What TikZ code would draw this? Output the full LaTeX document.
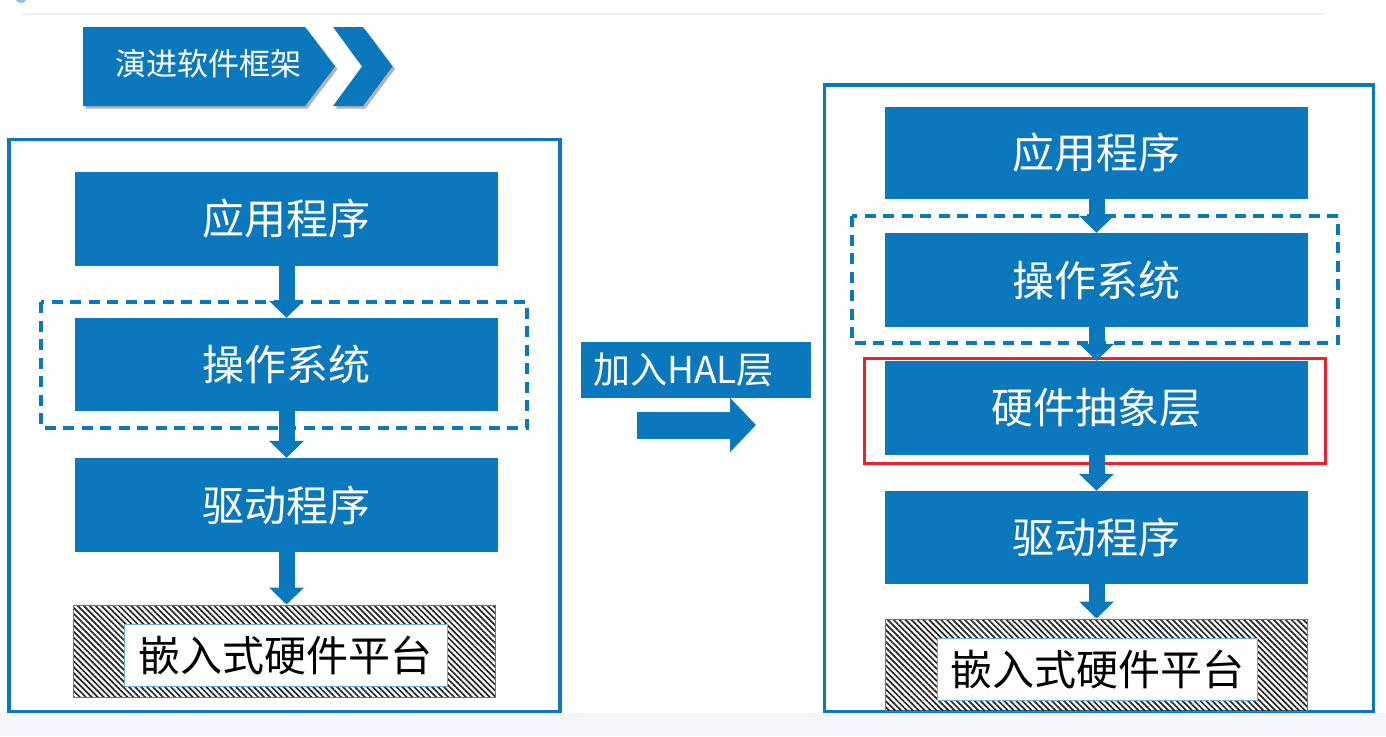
\documentclass[tikz,border=0pt]{standalone}
\usepackage{fontspec}
\newfontfamily\cjk{Noto Sans CJK SC}
\usetikzlibrary{arrows.meta,patterns.meta,shadows}
\definecolor{hblue}{HTML}{0B77BD}
\definecolor{hred}{HTML}{E8242C}
\definecolor{strip}{HTML}{F5F5FA}
\tikzset{
  layerbox/.style={fill=hblue, draw=none, minimum width=423pt, minimum height=94pt,
    text=white, inner sep=0pt, font=\cjk\fontsize{42}{42}\selectfont},
  hatchbox/.style={pattern={Lines[angle=-45,distance=4.2pt,line width=1.7pt]},
    pattern color=black!85, draw=hblue!40!gray, line width=1pt,
    minimum width=422pt, minimum height=92pt, inner sep=0pt},
  hwlabel/.style={fill=white, draw=hblue!60, line width=1pt, minimum width=323pt,
    minimum height=62pt, inner sep=0pt, text=black, font=\cjk\fontsize{42}{42}\selectfont},
  flow/.style={draw=hblue, line width=16pt, -{Triangle[width=34pt,length=17pt]}},
  dashbox/.style={draw=hblue, line width=3.5pt, dash pattern=on 11pt off 7.5pt},
  panel/.style={draw=hblue, line width=3.5pt},
}
\begin{document}
\begin{tikzpicture}[x=1pt,y=-1pt]
\useasboundingbox (0,0) rectangle (1386,736);
% faint top line and corner mark
\begin{scope}
\clip (0,0) rectangle (1386,736);
\fill[hblue!45] (21,-3) circle (6);
\end{scope}
\draw[black!6, line width=1.5pt] (22,14) -- (1325,14);
% header chevrons
\fill[hblue, drop shadow={shadow xshift=2.5pt, shadow yshift=-2.5pt, opacity=0.3, fill=black}]
  (83,27) -- (305,27) -- (335,66.5) -- (305,106) -- (83,106) -- cycle;
\fill[hblue, drop shadow={shadow xshift=2.5pt, shadow yshift=-2.5pt, opacity=0.3, fill=black}]
  (333,27) -- (363,27) -- (392.5,66.5) -- (363,106) -- (333,106) -- (362,66.5) -- cycle;
\node[text=white, font=\cjk\fontsize{31}{31}\selectfont] (title) at (208,64) {演进软件框架};

% left panel
\draw[panel] (9,139.5) rectangle (560,712);
\draw[dashbox] (41,302) rectangle (527,428);
\node[layerbox] (lapp) at (286.5,219) {应用程序};
\node[layerbox, minimum height=93pt] (los) at (286.5,364.5) {操作系统};
\node[layerbox] (ldrv) at (286.5,505) {驱动程序};
\node[hatchbox] (lhw) at (284,651) {};
\node[hwlabel] (lhwt) at (285.5,655) {嵌入式硬件平台};
\draw[flow] (lapp.south) -- (los.north);
\draw[flow] (los.south) -- (ldrv.north);
\draw[flow] (ldrv.south) -- (ldrv.south |- lhw.north);

% middle label and arrow
\node[fill=hblue, minimum width=230pt, minimum height=56pt, inner sep=0pt] (hal) at (696,370) {};
\node[anchor=west, text=white, font=\cjk\fontsize{37}{37}\selectfont, inner sep=0pt] (haltxt) at (593,370) {加入HAL层};
\coordinate (mfrom) at (637,425);
\coordinate (mto) at (756,425);
\draw[draw=hblue, line width=27pt, -{Triangle[width=53pt,length=26pt]}] (mfrom) -- (mto);

% right panel
\draw[panel] (824.5,85) rectangle (1373.5,712);
\draw[dashbox] (852,216) rectangle (1338,343);
\draw[hred, line width=3pt] (864,358) rectangle (1325,463);
\node[layerbox, minimum height=92pt] (rapp) at (1096.5,153) {应用程序};
\node[layerbox] (ros) at (1096.5,280) {操作系统};
\node[layerbox] (rhal) at (1096.5,408) {硬件抽象层};
\node[layerbox, minimum height=93pt] (rdrv) at (1096.5,537.5) {驱动程序};
\node[hatchbox] (rhw) at (1096,665) {};
\node[hwlabel, minimum width=320pt] (rhwt) at (1097,669) {嵌入式硬件平台};
\draw[flow] (rapp.south) -- (ros.north);
\draw[flow] (ros.south) -- (rhal.north);
\draw[flow] (rhal.south) -- (rdrv.north);
\draw[flow] (rdrv.south) -- (rdrv.south |- rhw.north);

% bottom strip
\fill[strip] (0,713) rectangle (1386,736);
\end{tikzpicture}
\end{document}
